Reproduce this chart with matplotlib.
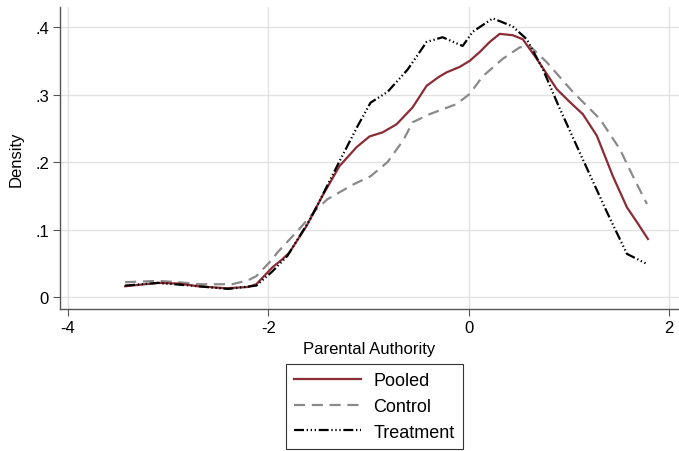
import matplotlib
matplotlib.use("Agg")
import matplotlib.pyplot as plt
from matplotlib.lines import Line2D

plt.rcParams['font.family'] = ['Liberation Sans', 'DejaVu Sans']

pooled_x = [-3.43, -3.1, -2.9, -2.7, -2.42, -2.2, -2.12, -1.96, -1.86, -1.79, -1.62, -1.46,
            -1.29, -1.12, -0.99, -0.86, -0.72, -0.56, -0.42, -0.3, -0.22, -0.09, 0.01, 0.11, 0.21,
            0.31, 0.44, 0.54, 0.68, 0.88, 1.01, 1.14, 1.28, 1.44, 1.58, 1.68, 1.79]
pooled_y = [0.016, 0.021, 0.020, 0.016, 0.013, 0.015, 0.019, 0.044, 0.056, 0.066, 0.105, 0.150,
            0.194, 0.222, 0.238, 0.244, 0.256, 0.281, 0.313, 0.326, 0.333, 0.341, 0.350, 0.363, 0.378,
            0.390, 0.388, 0.382, 0.353, 0.308, 0.289, 0.271, 0.239, 0.179, 0.133, 0.111, 0.086]

control_x = [-3.43, -3.1, -2.9, -2.69, -2.36, -2.2, -2.12, -1.96, -1.91, -1.69, -1.52, -1.41,
             -1.15, -0.98, -0.81, -0.65, -0.56, -0.39, -0.12, 0.01, 0.14, 0.34, 0.51, 0.61,
             0.78, 1.04, 1.31, 1.51, 1.64, 1.78]
control_y = [0.022, 0.024, 0.022, 0.019, 0.019, 0.025, 0.031, 0.056, 0.066, 0.101, 0.130, 0.145,
             0.167, 0.179, 0.200, 0.233, 0.259, 0.271, 0.286, 0.301, 0.327, 0.353, 0.370, 0.372,
             0.348, 0.304, 0.264, 0.219, 0.179, 0.138]

treat_x = [-3.43, -3.1, -2.7, -2.4, -2.12, -1.96, -1.81, -1.58, -1.48, -1.28, -1.11, -0.98,
           -0.81, -0.61, -0.42, -0.26, -0.06, 0.04, 0.24, 0.44, 0.58, 0.74, 0.91, 1.14,
           1.38, 1.58, 1.78]
treat_y = [0.017, 0.021, 0.016, 0.012, 0.017, 0.038, 0.061, 0.116, 0.145, 0.204, 0.253, 0.288,
           0.304, 0.337, 0.378, 0.385, 0.372, 0.393, 0.413, 0.401, 0.382, 0.338, 0.279, 0.204,
           0.126, 0.064, 0.049]

series_labels = ["Pooled", "Control", "Treatment"]
x_ticks = [-4, -2, 0, 2]
x_tick_labels = ["-4", "-2", "0", "2"]
y_ticks = [0, 0.1, 0.2, 0.3, 0.4]
y_tick_labels = ["0", ".1", ".2", ".3", ".4"]

fig = plt.figure(figsize=(6.79, 4.52), dpi=100)
ax = fig.add_axes([0.0884, 0.314, 0.9116, 0.668])

red = "#8b2c35"
gray = "#8a8a8a"
treat_dash = (0, (4.5, 1.2, 0.6, 1.2, 0.6, 1.2, 0.6, 1.2))

ax.plot(pooled_x, pooled_y, color=red, lw=1.6, label=series_labels[0], zorder=3)
ax.plot(control_x, control_y, color=gray, lw=1.6, ls=(0, (5, 3)), label=series_labels[1], zorder=2)
ax.plot(treat_x, treat_y, color="black", lw=1.6, ls=treat_dash, label=series_labels[2], zorder=4)

ax.set_xlim(-4.08, 2.1)
ax.set_ylim(-0.0178, 0.4296)
ax.set_xticks(x_ticks)
ax.set_xticklabels(x_tick_labels)
ax.set_yticks(y_ticks)
ax.set_yticklabels(y_tick_labels)
ax.grid(True, color="#e2e2e2", lw=1.0)
ax.set_axisbelow(True)
for s in ["top", "right"]:
    ax.spines[s].set_visible(False)
for s in ["left", "bottom"]:
    ax.spines[s].set_color("#555555")
    ax.spines[s].set_linewidth(1.0)
ax.tick_params(axis="both", direction="out", length=5, color="#555555", labelsize=12, pad=3)
ax.set_xlabel("Parental Authority", fontsize=12, labelpad=4)
ax.set_ylabel("Density", fontsize=12, labelpad=8)

handles = [Line2D([], [], color=red, lw=1.6),
           Line2D([], [], color=gray, lw=1.6, ls=(0, (5, 3))),
           Line2D([], [], color="black", lw=1.6, ls=treat_dash)]
leg = fig.legend(handles, series_labels, loc="center", bbox_to_anchor=(0.551, 0.0985, 0, 0),
                 fontsize=13, frameon=True, fancybox=False, edgecolor="black",
                 handlelength=3.7, handletextpad=0.7, labelspacing=0.48, borderpad=0.45,
                 borderaxespad=0)
leg.get_frame().set_linewidth(0.8)

fig.savefig("out.png", dpi=100)
